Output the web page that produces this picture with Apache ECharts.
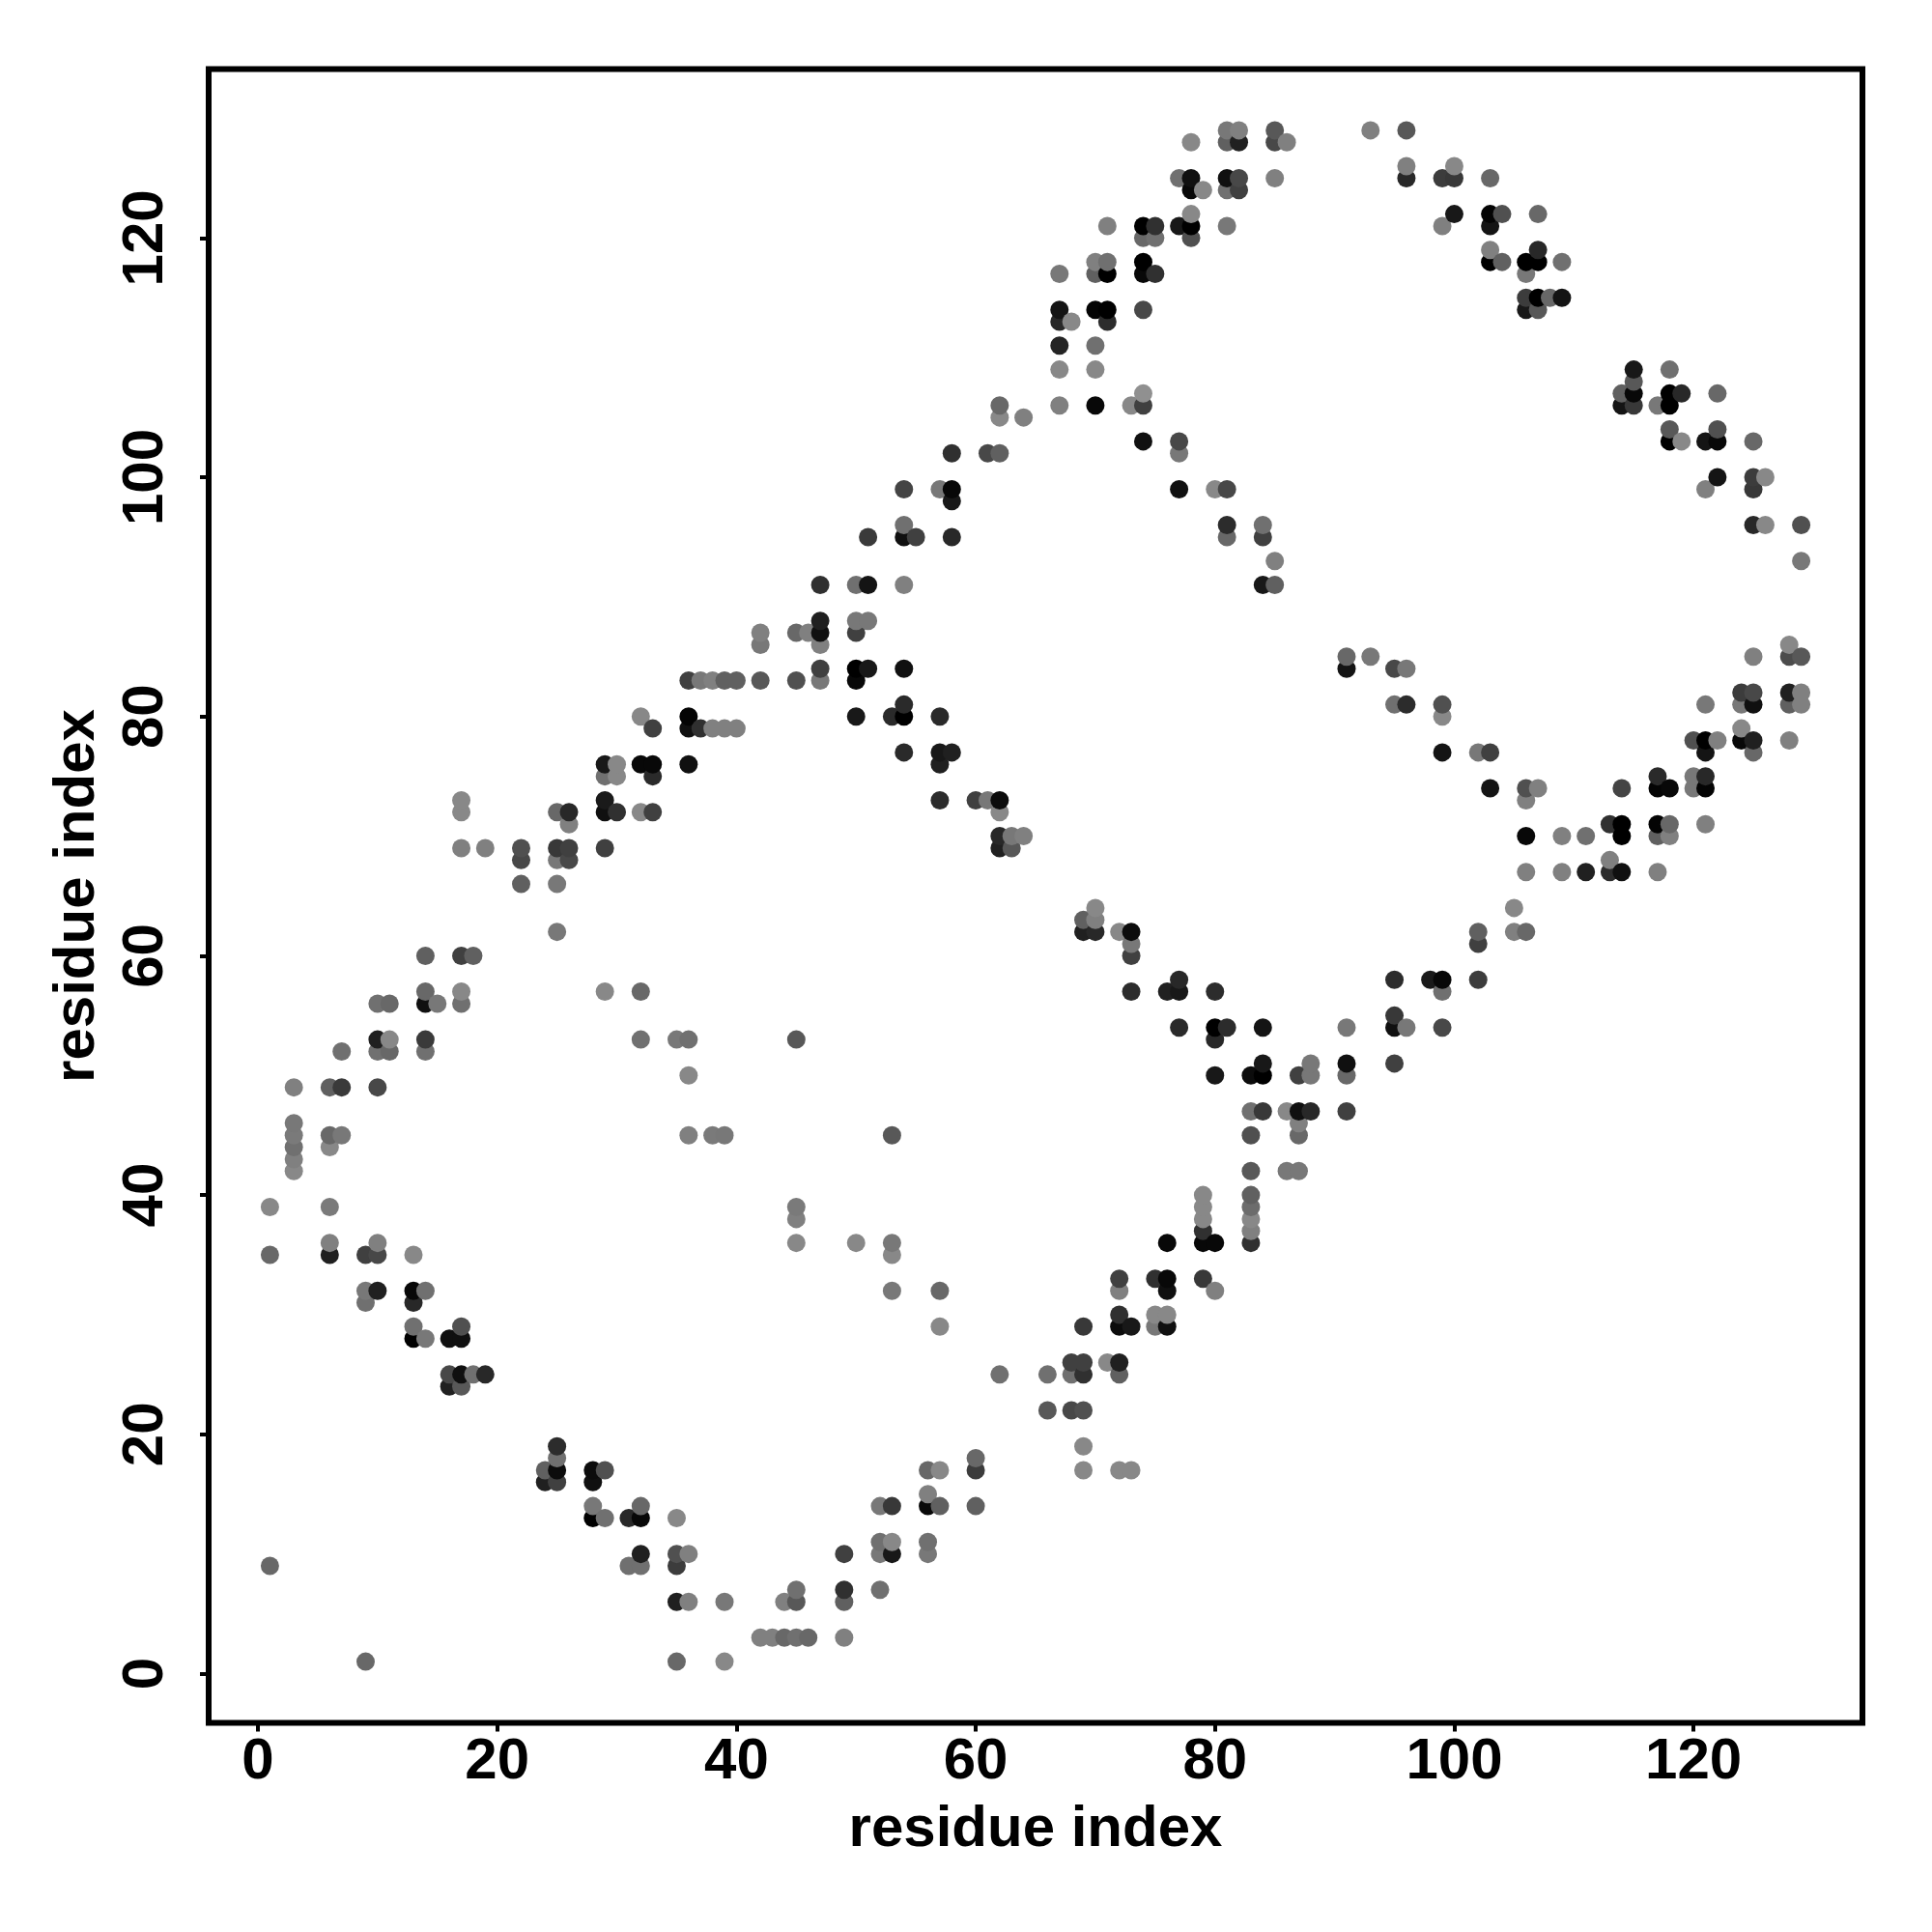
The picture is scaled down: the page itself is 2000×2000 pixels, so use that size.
<!DOCTYPE html>
<html><head><meta charset="utf-8">
<style>html,body{margin:0;padding:0;background:#fff}#c{width:2000px;height:2000px}</style>
<script src="https://cdn.jsdelivr.net/npm/echarts@6/dist/echarts.min.js"></script>
</head><body><div id="c"></div>
<script>
const tickValues = [0, 20, 40, 60, 80, 100, 120];
const xAxisTitle = 'residue index';
const yAxisTitle = 'residue index';
// Each contact: [x residue, y residue, grey level]
const contactsHigh = [
[81,129,0x78],[82,129,0x80],[85,129,0x58],[93,129,0x80],[96,129,0x58],
[78,128,0x88],[81,128,0x60],[82,128,0x20],[85,128,0x48],[86,128,0x80],
[96,126,0x80],[100,126,0x88],
[77,125,0x70],[78,125,0x10],[81,125,0x10],[82,125,0x48],[85,125,0x80],[96,125,0x28],[99,125,0x3c],[100,125,0x38],[103,125,0x68],
[78,124,0x08],[79,124,0x88],[81,124,0x70],[82,124,0x40],
[78,122,0x88],[100,122,0x18],[103,122,0x04],[104,122,0x50],[107,122,0x68],
[71,121,0x80],[74,121,0x00],[75,121,0x30],[77,121,0x18],[78,121,0x00],[81,121,0x78],[99,121,0x80],[103,121,0x14],
[74,120,0x68],[75,120,0x70],[78,120,0x50],
[103,119,0x80],[107,119,0x28],
[70,118,0x80],[71,118,0x70],[74,118,0x00],[103,118,0x00],[104,118,0x60],[106,118,0x00],[107,118,0x00],[109,118,0x70],
[67,117,0x78],[70,117,0x60],[71,117,0x00],[74,117,0x08],[75,117,0x30],[106,117,0x78],
[106,115,0x3c],[107,115,0x00],[108,115,0x68],[109,115,0x14],
[67,114,0x14],[70,114,0x04],[71,114,0x00],[74,114,0x48],[106,114,0x18],[107,114,0x58],
[67,113,0x28],[68,113,0x88],[71,113,0x2c],
[67,111,0x24],[70,111,0x70],
[67,109,0x88],[70,109,0x88],[115,109,0x18],[118,109,0x70],
[115,108,0x58],
[74,107,0x90],[114,107,0x60],[115,107,0x08],[118,107,0x00],[119,107,0x28],[122,107,0x68],
[62,106,0x68],[67,106,0x80],[70,106,0x08],[73,106,0x88],[74,106,0x40],[114,106,0x14],[115,106,0x38],[117,106,0x78],[118,106,0x00],
[62,105,0x88],[64,105,0x80],
[118,104,0x58],[122,104,0x50],
[74,103,0x10],[77,103,0x48],[118,103,0x00],[119,103,0x88],[121,103,0x14],[122,103,0x08],[125,103,0x68],
[58,102,0x30],[61,102,0x48],[62,102,0x60],[77,102,0x78],
[122,100,0x14],[125,100,0x3c],[126,100,0x88],
[54,99,0x44],[57,99,0x78],[58,99,0x08],[77,99,0x10],[80,99,0x88],[81,99,0x48],[121,99,0x80],[125,99,0x38],
[58,98,0x18],
[54,96,0x70],[81,96,0x2c],[84,96,0x70],[125,96,0x28],[126,96,0x88],[129,96,0x50],
[51,95,0x3a],[54,95,0x10],[55,95,0x40],[58,95,0x28],[81,95,0x68],[84,95,0x40],
[85,93,0x80],[129,93,0x78],
[47,91,0x30],[50,91,0x70],[51,91,0x14],[54,91,0x80],[84,91,0x18],[85,91,0x60],
[47,88,0x20],[50,88,0x78],[51,88,0x78],
[42,87,0x80],[45,87,0x68],[46,87,0x80],[47,87,0x10],[50,87,0x40],
[42,86,0x78],[47,86,0x80],[128,86,0x88],
[91,85,0x68],[93,85,0x78],[125,85,0x80],[128,85,0x4c],[129,85,0x58],
[47,84,0x40],[50,84,0x00],[51,84,0x18],[54,84,0x10],[91,84,0x14],[95,84,0x48],[96,84,0x78],
[36,83,0x40],[37,83,0x78],[38,83,0x80],[39,83,0x60],[40,83,0x60],[42,83,0x58],[45,83,0x50],[47,83,0x78],[50,83,0x08],
[124,82,0x3c],[125,82,0x48],[128,82,0x20],[129,82,0x80],
[54,81,0x2a],[95,81,0x70],[96,81,0x2c],[99,81,0x50],[121,81,0x78],[124,81,0x78],[125,81,0x10],[128,81,0x60],[129,81,0x80],
[32,80,0x88],[36,80,0x04],[50,80,0x18],[53,80,0x2a],[54,80,0x00],[57,80,0x2a],[99,80,0x88],
[33,79,0x40],[36,79,0x10],[37,79,0x30],[38,79,0x80],[39,79,0x80],[40,79,0x80],[124,79,0x88],
[120,78,0x50],[121,78,0x00],[122,78,0x80],[124,78,0x08],[125,78,0x20],[128,78,0x80],
[54,77,0x2a],[57,77,0x18],[58,77,0x20],[99,77,0x14],[102,77,0x78],[103,77,0x40],[121,77,0x14],[125,77,0x68],
[29,76,0x18],[30,76,0x88],[32,76,0x08],[33,76,0x08],[36,76,0x10],[57,76,0x20],
[29,75,0x70],[30,75,0x88],[33,75,0x2a],[117,75,0x2a],[120,75,0x78],[121,75,0x28],
[103,74,0x14],[106,74,0x50],[107,74,0x80],[114,74,0x44],[117,74,0x04],[118,74,0x08],[120,74,0x78],[121,74,0x04],
[17,73,0x88],[29,73,0x1a],[57,73,0x2c],[60,73,0x40],[61,73,0x78],[62,73,0x0c],[106,73,0x80],
[17,72,0x88],[25,72,0x68],[26,72,0x28],[29,72,0x10],[30,72,0x30],[32,72,0x88],[33,72,0x40],[62,72,0x88],
[26,71,0x80],[113,71,0x30],[114,71,0x00],[117,71,0x04],[118,71,0x68],[121,71,0x80],
[62,70,0x28],[63,70,0x78],[64,70,0x80],[106,70,0x08],[109,70,0x80],[111,70,0x70],[114,70,0x00],[117,70,0x60],[118,70,0x80],
[17,69,0x80],[19,69,0x80],[22,69,0x50],[25,69,0x38],[26,69,0x40],[29,69,0x40],[62,69,0x20],[63,69,0x58],
[22,68,0x48],[25,68,0x78],[26,68,0x48],[113,68,0x80],
[106,67,0x80],[109,67,0x80],[111,67,0x20],[113,67,0x2c],[114,67,0x10],[117,67,0x80],
[22,66,0x60],[25,66,0x78]
];
const contactsLow = [
[70,64,0x88],[105,64,0x88],
[69,63,0x60],[70,63,0x80],
[25,62,0x78],[69,62,0x20],[70,62,0x28],[72,62,0x88],[73,62,0x0c],[102,62,0x60],[105,62,0x80],[106,62,0x68],
[73,61,0x78],[102,61,0x40],
[14,60,0x60],[17,60,0x40],[18,60,0x60],[73,60,0x40],
[77,58,0x28],[95,58,0x2c],[98,58,0x1a],[99,58,0x08],[102,58,0x3c],
[14,57,0x68],[17,57,0x88],[29,57,0x88],[32,57,0x68],[73,57,0x2c],[76,57,0x20],[77,57,0x18],[80,57,0x2c],[99,57,0x70],
[10,56,0x70],[11,56,0x68],[14,56,0x10],[15,56,0x78],[17,56,0x70],
[95,55,0x38],
[77,54,0x2a],[80,54,0x00],[81,54,0x2c],[84,54,0x14],[91,54,0x78],[95,54,0x10],[96,54,0x78],[99,54,0x48],
[10,53,0x20],[11,53,0x88],[14,53,0x3a],[32,53,0x70],[35,53,0x78],[36,53,0x70],[45,53,0x58],[80,53,0x28],
[7,52,0x70],[10,52,0x70],[11,52,0x68],[14,52,0x70],
[84,51,0x18],[88,51,0x78],[91,51,0x10],[95,51,0x40],
[36,50,0x88],[80,50,0x18],[83,50,0x0c],[84,50,0x00],[87,50,0x40],[88,50,0x78],[91,50,0x68],
[3,49,0x80],[6,49,0x60],[7,49,0x3a],[10,49,0x48],
[83,47,0x70],[84,47,0x38],[86,47,0x88],[87,47,0x10],[88,47,0x28],[91,47,0x40],
[3,46,0x78],[87,46,0x80],
[3,45,0x7a],[6,45,0x68],[7,45,0x78],[36,45,0x80],[38,45,0x7a],[39,45,0x78],[53,45,0x58],[83,45,0x50],[87,45,0x68],
[3,44,0x70],[6,44,0x88],
[3,43,0x80],
[3,42,0x88],[83,42,0x58],[86,42,0x78],[87,42,0x78],
[79,40,0x88],[83,40,0x60],
[1,39,0x88],[6,39,0x7a],[45,39,0x7a],[79,39,0x88],[83,39,0x6c],
[45,38,0x80],[79,38,0x88],[83,38,0x88],
[79,37,0x30],[83,37,0x80],
[6,36,0x80],[10,36,0x80],[45,36,0x88],[50,36,0x88],[53,36,0x78],[76,36,0x08],[79,36,0x08],[80,36,0x08],[83,36,0x30],
[1,35,0x68],[6,35,0x20],[9,35,0x40],[10,35,0x48],[13,35,0x88],[53,35,0x88],
[72,33,0x40],[75,33,0x30],[76,33,0x08],[79,33,0x38],
[9,32,0x78],[10,32,0x20],[13,32,0x08],[14,32,0x70],[53,32,0x78],[57,32,0x68],[72,32,0x80],[76,32,0x10],[80,32,0x80],
[9,31,0x70],[13,31,0x28],
[72,30,0x30],[75,30,0x88],[76,30,0x88],
[13,29,0x70],[17,29,0x50],[57,29,0x88],[69,29,0x38],[72,29,0x0c],[73,29,0x18],[75,29,0x78],[76,29,0x10],
[13,28,0x00],[14,28,0x78],[16,28,0x10],[17,28,0x10],
[68,26,0x40],[69,26,0x40],[71,26,0x88],[72,26,0x20],
[16,25,0x48],[17,25,0x10],[18,25,0x70],[19,25,0x28],[62,25,0x70],[66,25,0x70],[68,25,0x70],[69,25,0x30],[72,25,0x60],
[16,24,0x20],[17,24,0x58],
[66,22,0x58],[68,22,0x48],[69,22,0x50],
[25,19,0x2c],[69,19,0x88],
[25,18,0x70],[60,18,0x68],
[24,17,0x60],[25,17,0x0c],[28,17,0x0c],[29,17,0x50],[56,17,0x68],[57,17,0x88],[60,17,0x3c],[69,17,0x88],[72,17,0x88],[73,17,0x88],
[24,16,0x20],[25,16,0x40],[28,16,0x10],
[56,15,0x80],
[28,14,0x78],[32,14,0x68],[52,14,0x78],[53,14,0x38],[56,14,0x08],[57,14,0x60],[60,14,0x60],
[28,13,0x00],[29,13,0x70],[31,13,0x28],[32,13,0x08],[35,13,0x88],
[52,11,0x70],[53,11,0x88],[56,11,0x70],
[32,10,0x20],[35,10,0x50],[36,10,0x80],[49,10,0x40],[52,10,0x78],[53,10,0x18],[56,10,0x78],
[1,9,0x68],[31,9,0x70],[32,9,0x70],[35,9,0x3c],
[45,7,0x70],[49,7,0x30],[52,7,0x70],
[35,6,0x20],[36,6,0x80],[39,6,0x78],[44,6,0x80],[45,6,0x58],[49,6,0x60],
[42,3,0x80],[43,3,0x80],[44,3,0x68],[45,3,0x70],[46,3,0x68],[49,3,0x80],
[9,1,0x68],[35,1,0x68],[39,1,0x88]
];

const contacts = contactsHigh.concat(contactsLow).sort((a, b) => a[0] - b[0] || a[1] - b[1]);
const chart = echarts.init(document.getElementById('c'), null, {renderer: 'canvas', width: 2000, height: 2000});
const font = '"Liberation Sans", Arial, sans-serif';
function axis(name, rotate, labelMargin, nameGap) {
  return {
    type: 'value', min: -4.12, max: 134.12, name: name, nameLocation: 'middle', nameGap: nameGap,
    nameRotate: rotate,
    nameTextStyle: {color: '#000', fontFamily: font, fontWeight: 'bold', fontSize: 60},
    splitLine: {show: false}, axisLine: {show: false, onZero: false},
    axisTick: {show: true, length: 9, customValues: tickValues, lineStyle: {color: '#000', width: 4}},
    axisLabel: {show: true, customValues: tickValues, rotate: rotate, margin: labelMargin, color: '#000',
      fontFamily: font, fontWeight: 'bold', fontSize: 60}
  };
}
chart.setOption({
  animation: false,
  backgroundColor: '#fff',
  grid: {left: 216, top: 71.5, width: 1712, height: 1712, show: true, borderColor: '#000', borderWidth: 6, backgroundColor: 'transparent'},
  xAxis: axis(xAxisTitle, 0, 11, 81),
  yAxis: axis(yAxisTitle, 90, 35, 106),
  series: [{
    type: 'scatter', symbol: 'circle', symbolSize: 19, silent: true, clip: false,
    data: contacts,
    itemStyle: {opacity: 1, color: p => { const g = p.data[2]; return 'rgb(' + g + ',' + g + ',' + g + ')'; }}
  }]
});
</script></body></html>
